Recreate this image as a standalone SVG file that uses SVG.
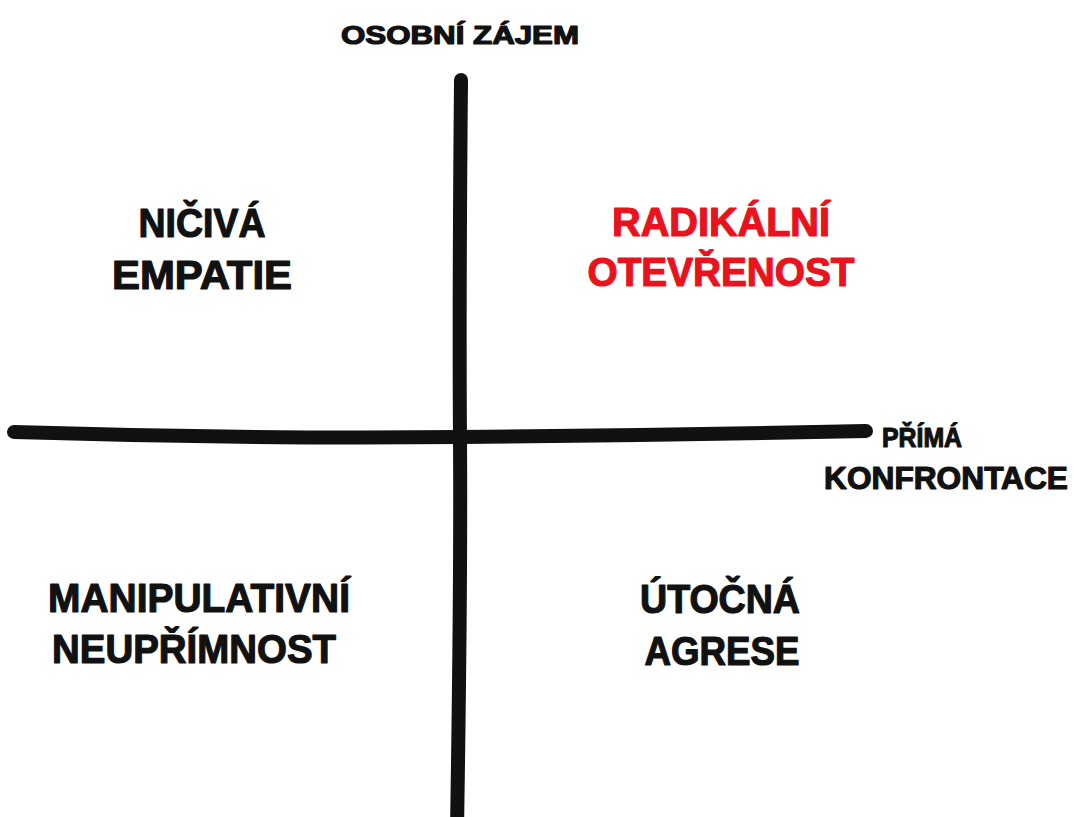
<svg xmlns="http://www.w3.org/2000/svg" width="1074" height="817" viewBox="0 0 1074 817">
<style>
.t{font-family:"Liberation Sans",Arial,sans-serif;font-weight:bold;fill:#111111;stroke:#111111;stroke-width:1.2;stroke-linejoin:round;text-anchor:middle}
.r{fill:#e8131d;stroke:#e8131d}
.ax{fill:none;stroke:#111111;stroke-linecap:round}
</style>
<rect width="1074" height="817" fill="#ffffff"/>
<g id="connectors">
<path class="ax" d="M461,80 Q459,300 460,440 T457,830" stroke-width="14"/>
<path class="ax" d="M14,432 Q240,439 460,437 T866,431" stroke-width="14"/>
</g>
<g id="axis-y"><text class="t" x="460" y="44" font-size="25" textLength="238" lengthAdjust="spacingAndGlyphs">OSOBNÍ ZÁJEM</text></g>
<g id="axis-x">
<text class="t" x="922" y="447" font-size="28" textLength="80" lengthAdjust="spacingAndGlyphs">PŘÍMÁ</text>
<text class="t" x="946" y="489" font-size="31" textLength="244" lengthAdjust="spacingAndGlyphs">KONFRONTACE</text>
</g>
<g id="q-tl">
<text class="t" x="202" y="237" font-size="40" textLength="127" lengthAdjust="spacingAndGlyphs">NIČIVÁ</text>
<text class="t" x="202" y="289" font-size="40" textLength="180" lengthAdjust="spacingAndGlyphs">EMPATIE</text>
</g>
<g id="q-tr">
<text class="t r" x="721" y="236" font-size="40" textLength="218" lengthAdjust="spacingAndGlyphs">RADIKÁLNÍ</text>
<text class="t r" x="721" y="286" font-size="40" textLength="267" lengthAdjust="spacingAndGlyphs">OTEVŘENOST</text>
</g>
<g id="q-bl">
<text class="t" x="199" y="612" font-size="40" textLength="302" lengthAdjust="spacingAndGlyphs">MANIPULATIVNÍ</text>
<text class="t" x="194" y="663" font-size="40" textLength="284" lengthAdjust="spacingAndGlyphs">NEUPŘÍMNOST</text>
</g>
<g id="q-br">
<text class="t" x="720" y="613" font-size="40" textLength="160" lengthAdjust="spacingAndGlyphs">ÚTOČNÁ</text>
<text class="t" x="722" y="665" font-size="40" textLength="155" lengthAdjust="spacingAndGlyphs">AGRESE</text>
</g>
</svg>
